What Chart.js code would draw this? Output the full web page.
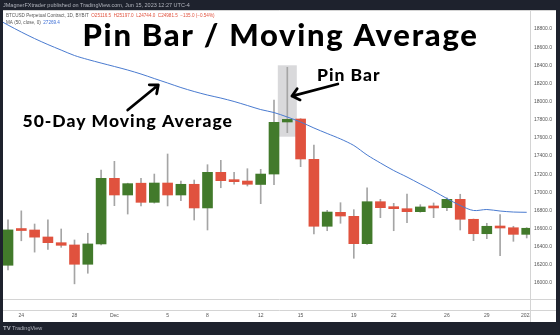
<!DOCTYPE html>
<html>
<head>
<meta charset="utf-8">
<script src="https://cdn.jsdelivr.net/npm/chart.js@4.4.0/dist/chart.umd.min.js"></script>
<style>
  html, body { margin: 0; padding: 0; background: #1e222d; }
  #c { display: block; }
</style>
</head>
<body>
<canvas id="c" width="560" height="335"></canvas>
<script>
// Daily candles, 23 Nov 2022 .. 1 Jan 2023
const dates = ['23 Nov','24 Nov','25 Nov','26 Nov','27 Nov','28 Nov','29 Nov','30 Nov',
  '1 Dec','2 Dec','3 Dec','4 Dec','5 Dec','6 Dec','7 Dec','8 Dec','9 Dec','10 Dec','11 Dec',
  '12 Dec','13 Dec','14 Dec','15 Dec','16 Dec','17 Dec','18 Dec','19 Dec','20 Dec','21 Dec',
  '22 Dec','23 Dec','24 Dec','25 Dec','26 Dec','27 Dec','28 Dec','29 Dec','30 Dec','31 Dec','1 Jan'];
const open  = [16195,16590,16584,16507,16444,16419,16206,16430,17154,16970,17100,16889,17102,16970,
  17088,16827,17220,17135,17124,17086,17201,17775,17808,17363,16625,16779,16735,16433,16896,16834,
  16819,16786,16838,16830,16922,16702,16543,16625,16609,16536];
const high  = [16695,16795,16650,16695,16595,16474,16548,17245,17341,17100,17154,17201,17422,17124,
  17135,17304,17352,17220,17260,17253,18017,18378,17812,17521,16801,16885,16808,17050,16922,16878,
  16981,16863,16882,16940,16978,16705,16658,16753,16625,16610];
const low   = [16145,16465,16340,16370,16393,15990,16107,16420,16852,16760,16849,16880,16849,16907,
  16694,16584,17050,17088,17069,16874,17083,17657,17282,16540,16576,16658,16272,16425,16720,16576,
  16665,16780,16720,16797,16584,16466,16488,16301,16459,16496];
const close = [16585,16578,16505,16444,16415,16206,16430,17154,16970,17095,16889,17102,16970,17088,
  16827,17220,17128,17117,17088,17201,17771,17804,17367,16625,16782,16738,16433,16896,16830,16819,
  16786,16838,16827,16922,16702,16543,16625,16606,16536,16603];
// 50-day moving average, 22 Nov .. 1 Jan (first point sits just left of the view)
const ma50 = [18925,18844,18767,18695,18629,18568,18508,18464,18425,18387,18348,18304,18254,18205,
  18155,18111,18072,18039,18001,17957,17912,17879,17830,17775,17709,17648,17588,17516,17411,17323,
  17240,17168,17091,17014,16931,16854,16799,16810,16793,16782,16779];

const xTickDates  = ['24 Nov','28 Nov','1 Dec','5 Dec','8 Dec','12 Dec','15 Dec','19 Dec','22 Dec','26 Dec','29 Dec'];
const xTickLabels = ['24','28','Dec','5','8','12','15','19','22','26','29'];
const yTicks = [16000,16200,16400,16600,16800,17000,17200,17400,17600,17800,18000,18200,18400,18600,18800];

const pinBar = dates.indexOf('14 Dec');

const green = '#427a2b';
const red = '#e0523e';
const candleColors = dates.map((d, i) => close[i] >= open[i] ? green : red);

// TradingView style frame, header, footer and the annotations
const overlay = {
  id: 'overlay',
  beforeDraw(chart) {
    const { ctx, chartArea: a } = chart;
    const pr = chart.width - 4, pb = chart.height - 13;
    ctx.save();
    ctx.fillStyle = '#1e222d';
    ctx.fillRect(0, 0, chart.width, chart.height);
    ctx.fillStyle = '#ffffff';
    ctx.fillRect(a.left, a.top, pr - a.left, pb - a.top);
    ctx.strokeStyle = '#d4d4d4';
    ctx.lineWidth = 1;
    ctx.beginPath();
    ctx.moveTo(a.right + 0.5, a.top); ctx.lineTo(a.right + 0.5, pb);
    ctx.moveTo(a.left, a.bottom + 0.5); ctx.lineTo(pr, a.bottom + 0.5);
    ctx.moveTo(a.left, a.bottom + 11.5); ctx.lineTo(pr, a.bottom + 11.5);
    ctx.moveTo(a.left, a.top + 0.5); ctx.lineTo(pr, a.top + 0.5);
    ctx.stroke();

    // header / footer
    ctx.fillStyle = '#b2b5be';
    ctx.font = '5.5px "Liberation Sans"';
    ctx.textBaseline = 'middle';
    ctx.fillText('JMagnerFXtrader published on TradingView.com, Jun 15, 2023 12:27 UTC-4', 3, 5);
    ctx.font = 'bold 6px "Liberation Sans"';
    ctx.fillText('TV', 3, 328);
    ctx.font = '5.5px "Liberation Sans"';
    ctx.fillText('TradingView', 12, 328);

    // legend lines
    ctx.font = '4.6px "Liberation Sans"';
    let x = 6;
    ctx.fillStyle = '#555';
    const s1 = 'BTCUSD Perpetual Contract, 1D, BYBIT  ';
    ctx.fillText(s1, x, 15.7);
    x += ctx.measureText(s1).width;
    ctx.fillStyle = '#e0523e';
    ctx.fillText('O25116.5  H25197.0  L24744.0  C24981.5  \u2212135.0 (\u22120.54%)', x, 15.7);
    ctx.fillStyle = '#555';
    const s2 = 'MA (50, close, 0)  ';
    ctx.fillText(s2, 6, 22.3);
    ctx.fillStyle = '#3d6fd6';
    ctx.fillText('27269.4', 6 + ctx.measureText(s2).width, 22.3);
    ctx.restore();
  },
  beforeDatasetsDraw(chart) {
    // grey highlight behind the pin bar
    const { ctx, scales: { x, y } } = chart;
    const cx = x.getPixelForValue(pinBar);
    const top = y.getPixelForValue(high[pinBar]) - 2;
    const bot = y.getPixelForValue(low[pinBar]) + 4;
    ctx.save();
    ctx.fillStyle = '#d9d9db';
    ctx.fillRect(cx - 9.5, top, 19, bot - top);
    ctx.restore();
  },
  afterDraw(chart) {
    const { ctx, chartArea: a, scales: { x, y } } = chart;
    ctx.save();
    // last date label cut by the price axis
    ctx.beginPath();
    ctx.rect(a.left, a.bottom, a.right - a.left, 12 + 11);
    ctx.clip();
    ctx.fillStyle = '#555';
    ctx.font = '5px "Liberation Sans"';
    ctx.textBaseline = 'middle';
    ctx.fillText('2023', a.right - 9, a.bottom + 17);
    ctx.restore();

    ctx.save();
    ctx.fillStyle = '#000';
    ctx.textBaseline = 'alphabetic';
    ctx.textAlign = 'left';
    ctx.font = '900 31px Lato';
    ctx.letterSpacing = '1.7px';
    ctx.fillText('Pin Bar / Moving Average', 82.5, 45.7);
    ctx.font = '900 17.5px Lato';
    ctx.letterSpacing = '1px';
    ctx.fillText('Pin Bar', 317, 80.7);
    ctx.fillText('50-Day Moving Average', 22.5, 126.7);
    ctx.letterSpacing = '0px';

    const arrow = (fx, fy, tx, ty) => {
      const x0 = x.getPixelForValue(fx), y0 = y.getPixelForValue(fy);
      const x1 = x.getPixelForValue(tx), y1 = y.getPixelForValue(ty);
      const ang = Math.atan2(y1 - y0, x1 - x0);
      ctx.strokeStyle = '#000';
      ctx.lineWidth = 2.8;
      ctx.lineCap = 'round';
      ctx.lineJoin = 'round';
      ctx.beginPath();
      ctx.moveTo(x0, y0); ctx.lineTo(x1, y1);
      ctx.moveTo(x1 - 9 * Math.cos(ang - 0.7), y1 - 9 * Math.sin(ang - 0.7));
      ctx.lineTo(x1, y1);
      ctx.lineTo(x1 - 9 * Math.cos(ang + 0.7), y1 - 9 * Math.sin(ang + 0.7));
      ctx.stroke();
    };
    arrow(24.8, 18194, pinBar + 0.35, 18061);
    arrow(9.0, 17907, 11.3, 18183);
    ctx.restore();
  }
};

new Chart(document.getElementById('c'), {
  type: 'bar',
  data: {
    datasets: [
      {
        type: 'line',
        label: 'MA 50',
        data: ma50.map((v, k) => ({ x: k - 1, y: v })),
        borderColor: '#4a7bd0',
        borderWidth: 1,
        pointRadius: 0,
        tension: 0.3,
        order: 0
      },
      {
        label: 'Body',
        data: dates.map((d, i) => ({ x: i, y: [open[i], close[i]] })),
        backgroundColor: candleColors,
        barThickness: 10,
        minBarLength: 2,
        grouped: false,
        order: 1
      },
      {
        label: 'Wick',
        data: dates.map((d, i) => ({ x: i, y: [low[i], high[i]] })),
        backgroundColor: '#a5a5a5',
        barThickness: 1,
        grouped: false,
        order: 2
      }
    ]
  },
  options: {
    responsive: false,
    animation: false,
    devicePixelRatio: 1,
    layout: { padding: { left: 3, top: 10, right: 4, bottom: 13 } },
    plugins: { legend: { display: false }, tooltip: { enabled: false } },
    scales: {
      x: {
        type: 'linear',
        offset: false,
        min: -0.376,
        max: 39.248,
        grid: { display: false, drawTicks: false },
        border: { display: false },
        ticks: {
          padding: 14,
          color: '#555',
          font: { size: 5, family: 'Liberation Sans' },
          maxRotation: 0,
          autoSkip: false,
          callback: v => xTickLabels[xTickDates.indexOf(dates[v])]
        },
        afterBuildTicks: s => { s.ticks = xTickDates.map(d => ({ value: dates.indexOf(d) })); },
        afterFit: s => { s.height = 23; }
      },
      y: {
        position: 'right',
        min: 15823,
        max: 19010,
        grid: { display: false, drawTicks: false },
        border: { display: false },
        ticks: {
          padding: 4,
          color: '#555',
          font: { size: 5, family: 'Liberation Sans' },
          callback: v => v.toFixed(1)
        },
        afterBuildTicks: s => { s.ticks = yTicks.map(v => ({ value: v })); },
        afterFit: s => { s.width = 26; }
      }
    }
  },
  plugins: [overlay]
});
</script>
</body>
</html>
